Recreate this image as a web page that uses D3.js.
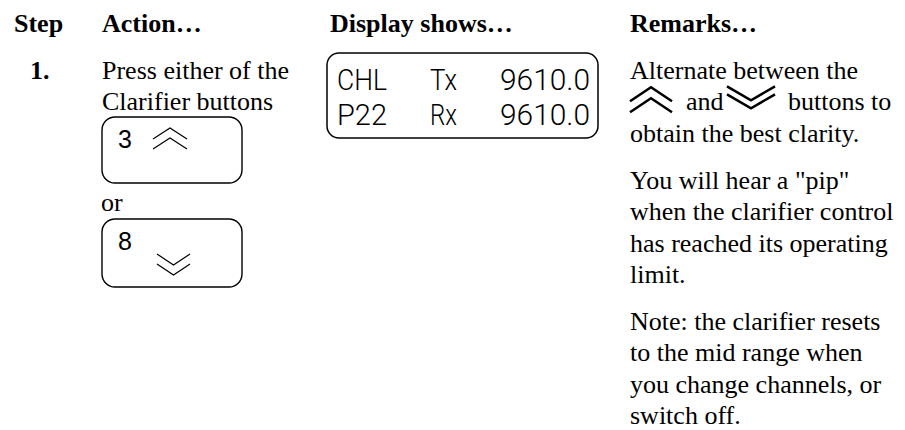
<!DOCTYPE html>
<html><head><meta charset="utf-8">
<script src="https://cdn.jsdelivr.net/npm/d3@7"></script>
<style>body{margin:0;background:#fff} svg{display:block}</style>
</head><body><svg id="c" width="905" height="430"></svg>
<script>
// ---- content ----
const headers = ["Step", "Action…", "Display shows…", "Remarks…"];
const stepLabels = ["1."];
const actionLines = ["Press either of the", "Clarifier buttons"];
const orLabel = "or";
const buttonKeys = ["3", "8"];
const buttonDirs = ["up", "down"];
const displayRows = [["CHL", "Tx", "9610.0"], ["P22", "Rx", "9610.0"]];
const remarkParas = [
  ["Alternate between the", "{up}and{down}buttons to", "obtain the best clarity."],
  ["You will hear a \"pip\"", "when the clarifier control", "has reached its operating", "limit."],
  ["Note: the clarifier resets", "to the mid range when", "you change channels, or", "switch off."]
];

// ---- layout ----
const svg = d3.select("#c");
const serif = "'Liberation Serif','Times New Roman',serif";
const colX = d3.scaleOrdinal().domain(headers).range([14, 102, 330, 630]);
const lineY = d3.scaleLinear().domain([0, 1]).range([79, 110.3]); // baseline per line index
const paraGap = 16;

// headers
svg.selectAll("text.hdr").data(headers).join("text")
  .attr("class", "hdr")
  .attr("x", d => colX(d)).attr("y", 32)
  .attr("font-family", serif).attr("font-weight", "bold").attr("font-size", 26)
  .attr("fill", "#000").text(d => d);

// step number
svg.selectAll("text.step").data(stepLabels).join("text")
  .attr("class", "step").attr("x", 30).attr("y", lineY(0))
  .attr("font-family", serif).attr("font-weight", "bold").attr("font-size", 26)
  .text(d => d);

// action lines
svg.selectAll("text.act").data(actionLines).join("text")
  .attr("class", "act").attr("x", colX("Action…")).attr("y", (d, i) => lineY(i))
  .attr("font-family", serif).attr("font-size", 26).text(d => d);

svg.append("text").attr("x", 101).attr("y", 211)
  .attr("font-family", serif).attr("font-size", 26).text(orLabel);

// chevron path generators
const line = d3.line();
function upChev(x, y, w, h, off) {
  return line([[x, y + h], [x + w / 2, y], [x + w, y + h]]) + line([[x, y + h + off], [x + w / 2, y + off], [x + w, y + h + off]]);
}
function downChev(x, y, w, h, off) {
  return line([[x, y], [x + w / 2, y + h], [x + w, y]]) + line([[x, y + off], [x + w / 2, y + h + off], [x + w, y + off]]);
}

// buttons
const btnY = d3.scaleOrdinal().domain(buttonKeys).range([117, 219]);
const btnH = d3.scaleOrdinal().domain(buttonKeys).range([66, 68]);
const btn = svg.selectAll("g.btn").data(buttonKeys).join("g").attr("class", "btn");
btn.append("rect")
  .attr("x", 102).attr("y", d => btnY(d)).attr("width", 140).attr("height", d => btnH(d))
  .attr("rx", 13).attr("fill", "none").attr("stroke", "#000").attr("stroke-width", 1.4);
btn.append("text")
  .attr("x", 118).attr("y", d => btnY(d) + 31)
  .attr("font-family", "'Liberation Sans',Arial,sans-serif").attr("font-size", 25).text(d => d);
btn.append("path")
  .attr("d", (d, i) => buttonDirs[i] === "up"
    ? upChev(153, btnY(d) + 11, 34, 11, 10)
    : downChev(157, btnY(d) + 35, 33, 11, 10))
  .attr("fill", "none").attr("stroke", "#000").attr("stroke-width", 1.2);

// display
svg.append("rect").attr("x", 327).attr("y", 53).attr("width", 271).attr("height", 85)
  .attr("rx", 12).attr("fill", "none").attr("stroke", "#000").attr("stroke-width", 1.5);
const lcdX = [337, 430, 500];
const lcdW = [50, 27, 90];
const rowY = d3.scaleLinear().domain([0, 1]).range([90, 125]);
displayRows.forEach((row, r) => {
  svg.selectAll("text.lcd" + r).data(row).join("text")
    .attr("class", "lcd" + r)
    .attr("x", (d, i) => lcdX[i]).attr("y", rowY(r))
    .attr("textLength", (d, i) => lcdW[i]).attr("lengthAdjust", "spacingAndGlyphs")
    .attr("font-family", "Roboto,'DejaVu Sans',sans-serif").attr("font-weight", 300)
    .attr("font-size", 30).attr("fill", "#000").text(d => d);
});

// remarks
const rx = colX("Remarks…");
remarkParas.forEach((para, p) => {
  para.forEach((ln, i) => {
    const gIdx = remarkParas.slice(0, p).reduce((s, a) => s + a.length, 0) + i;
    const y = lineY(gIdx) + p * paraGap;
    if (ln.includes("{up}")) {
      svg.append("path").attr("d", upChev(rx, y - 23, 42, 14, 11))
        .attr("fill", "none").attr("stroke", "#000").attr("stroke-width", 2.5);
      svg.append("text").attr("x", rx + 56).attr("y", y)
        .attr("font-family", serif).attr("font-size", 26).text("and");
      svg.append("path").attr("d", downChev(rx + 97, y - 24, 48, 14, 8))
        .attr("fill", "none").attr("stroke", "#000").attr("stroke-width", 2.5);
      svg.append("text").attr("x", rx + 158).attr("y", y)
        .attr("font-family", serif).attr("font-size", 26).text("buttons to");
    } else {
      svg.append("text").attr("x", rx).attr("y", y)
        .attr("font-family", serif).attr("font-size", 26).text(ln);
    }
  });
});
</script></body></html>
